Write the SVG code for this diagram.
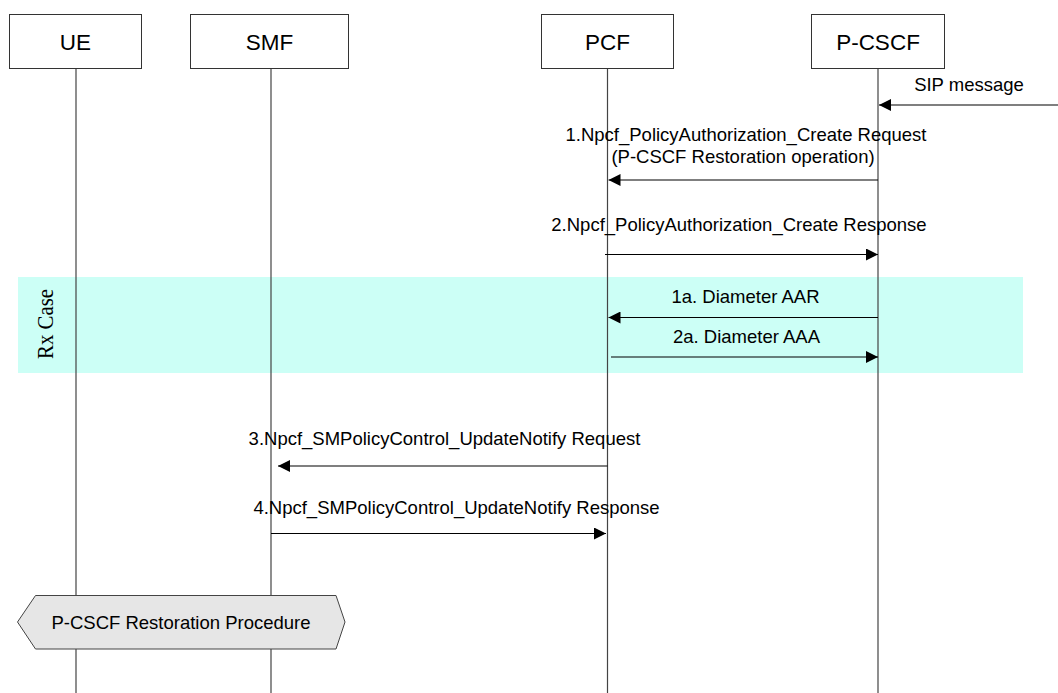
<svg xmlns="http://www.w3.org/2000/svg" width="1058" height="693" viewBox="0 0 1058 693">
<style>
.box{fill:#fff;stroke:#333;stroke-width:1}
.life{stroke:#444;stroke-width:1.2;fill:none}
.hdr{font-family:"Liberation Sans",Arial,sans-serif;font-size:22.5px;fill:#000;text-anchor:middle}
.lbl{font-family:"Liberation Sans",Arial,sans-serif;font-size:18.5px;fill:#000;text-anchor:middle}
.msg{stroke:#000;stroke-width:1.2;fill:none;marker-end:url(#ah)}
</style>
<defs>
<marker id="ah" markerWidth="12" markerHeight="12" refX="12" refY="6" orient="auto" markerUnits="userSpaceOnUse">
<path d="M0,0 L12,6 L0,12 Z" fill="#000"/>
</marker>
</defs>
<rect x="0" y="0" width="1058" height="693" fill="#fff"/>
<g id="rx-case">
<rect x="18" y="277" width="1005" height="96" fill="#ccfff6"/>
<text transform="translate(53,324) rotate(-90)" font-family="'Liberation Serif','Times New Roman',serif" font-size="23" text-anchor="middle" textLength="70" lengthAdjust="spacingAndGlyphs">Rx Case</text>
</g>
<g id="lifelines">
<line class="life" x1="76" y1="68" x2="76" y2="693"/>
<line class="life" x1="271" y1="68" x2="271" y2="693"/>
<line class="life" x1="607.5" y1="68" x2="607.5" y2="693"/>
<line class="life" x1="878" y1="68" x2="878" y2="693"/>
</g>
<g id="UE">
<rect class="box" x="9.5" y="14.5" width="132" height="54"/>
<text class="hdr" x="75.5" y="49.5">UE</text>
</g>
<g id="SMF">
<rect class="box" x="190.5" y="14.5" width="158" height="54"/>
<text class="hdr" x="269.5" y="49.5">SMF</text>
</g>
<g id="PCF">
<rect class="box" x="541.5" y="14.5" width="132" height="54"/>
<text class="hdr" x="607.5" y="49.5">PCF</text>
</g>
<g id="P-CSCF">
<rect class="box" x="811.5" y="14.5" width="133" height="54"/>
<text class="hdr" x="878" y="49.5">P-CSCF</text>
</g>
<g id="connectors">
<line class="msg" x1="1058" y1="105" x2="879" y2="105"/>
<text class="lbl" x="969" y="91">SIP message</text>
<line class="msg" x1="878" y1="180" x2="608.5" y2="180"/>
<text class="lbl" x="746" y="141">1.Npcf_PolicyAuthorization_Create Request</text>
<text class="lbl" x="743" y="163">(P-CSCF Restoration operation)</text>
<line class="msg" x1="605" y1="254.5" x2="878" y2="254.5"/>
<text class="lbl" x="739" y="231">2.Npcf_PolicyAuthorization_Create Response</text>
<line class="msg" x1="878" y1="317.5" x2="608.5" y2="317.5"/>
<text class="lbl" x="745.5" y="302.5">1a. Diameter AAR</text>
<line class="msg" x1="611" y1="357" x2="878" y2="357"/>
<text class="lbl" x="746.5" y="342.5">2a. Diameter AAA</text>
<line class="msg" x1="607.5" y1="466" x2="278" y2="466"/>
<text class="lbl" x="444.5" y="444.5">3.Npcf_SMPolicyControl_UpdateNotify Request</text>
<line class="msg" x1="271" y1="533.5" x2="606" y2="533.5"/>
<text class="lbl" x="456.5" y="513.5">4.Npcf_SMPolicyControl_UpdateNotify Response</text>
</g>
<g id="procedure">
<polygon points="17.5,622 35.5,595.5 336,595.5 345,622 336,649 35.5,649" fill="#e6e6e6" stroke="#444" stroke-width="1"/>
<text class="lbl" x="181" y="628.5">P-CSCF Restoration Procedure</text>
</g>
</svg>
